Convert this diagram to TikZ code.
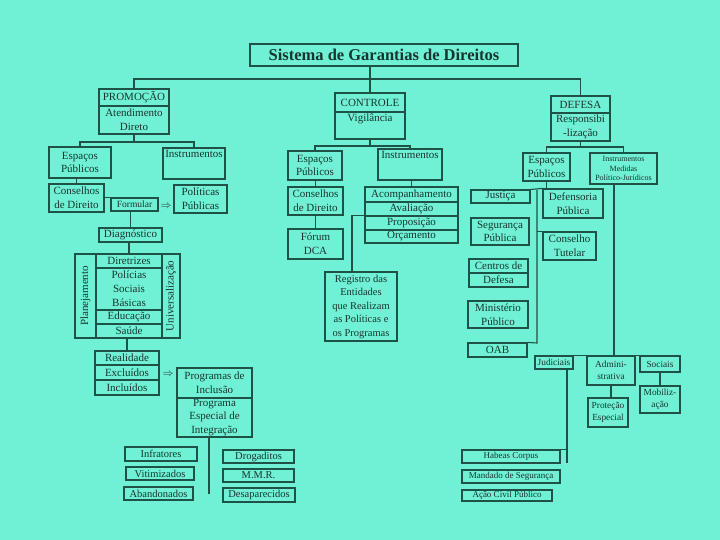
\documentclass[tikz,border=0pt]{standalone}
\usepackage{fontspec}
\setmainfont{Liberation Serif}
\definecolor{bg}{RGB}{112,240,212}
\definecolor{ln}{RGB}{30,82,70}
\definecolor{tx}{RGB}{24,54,47}
\newcommand\bx[7][]{\node[bx,#1,minimum width={(#5-#3)*1pt},minimum height={(#6-#4)*1pt}] (#2) at ({(#3+#5)/2},{(#4+#6)/2}) {#7};}
\tikzset{
  bx/.style={draw=ln,line width=1.1pt,inner sep=0pt,align=center,text=tx,font=\fontsize{11}{13.8}\selectfont},
  sm/.style={font=\fontsize{9.3}{12}\selectfont},
  cn/.style={draw=ln,line width=1.1pt},
  lbl/.style={text=tx,inner sep=1pt,font=\fontsize{11}{13.8}\selectfont}
}
\begin{document}
\begin{tikzpicture}[x=1pt,y=-1pt]
\fill[bg] (0,0) rectangle (720,540);
\useasboundingbox (0,0) rectangle (720,540);
% title
\bx[font=\fontsize{16.5}{18}\bfseries]{title}{250}{44}{518}{66}{Sistema de Garantias de Direitos}
% top level
\bx{prom}{99}{89}{169}{106}{PROMOÇÃO}
\bx{promb}{99}{106}{169}{134}{Atendimento\\Direto}
\bx{ctrl}{335}{93}{405}{112}{CONTROLE}
\bx{ctrlb}{335}{112}{405}{139}{}
\node[lbl,anchor=north] (ctrlbt) at ([yshift=-1pt]ctrlb.north) {Vigilância};
\bx{def}{551}{96}{610}{113}{DEFESA}
\bx{defb}{551}{113}{610}{141}{Responsibi\\-lização}
\coordinate (hTop) at (370,79);
\draw[cn] (ctrl.north) -- (ctrl.north |- title.south);
\draw[cn] (prom.north) |- (hTop) -| (def.north);
% PROMOCAO branch
\bx{espa}{49}{147}{111}{178}{Espaços\\Públicos}
\bx{insa}{163}{148}{225}{179}{}
\node[lbl,anchor=north] (insat) at ([yshift=-2pt]insa.north) {Instrumentos};
\coordinate (pj) at (134,142);
\draw[cn] (promb.south) -- (pj);
\draw[cn] (espa.north) |- (pj) -| (insa.north);
\bx{consa}{49}{184}{104}{212}{Conselhos\\de Direito}
\draw[cn] (consa.north) -- (consa.north |- espa.south);
\bx[font=\fontsize{9.5}{11}\selectfont]{form}{111}{198}{158}{211}{Formular}
\draw[cn] (form.north west) -- (form.north west -| consa.east);
\node[lbl] (arra) at (166,206) {$\Rightarrow$};
\bx{pol}{174}{185}{227}{213}{Políticas\\Públicas}
\bx{diag}{99}{228}{162}{242}{Diagnóstico}
\draw[cn] (diag.north) -- (diag.north |- form.south);
\bx{plan}{75}{254}{96}{338}{}
\node[lbl,rotate=90] (plant) at (plan.center) {Planejamento};
\bx{univ}{162}{254}{180}{338}{}
\node[lbl,rotate=90] (univt) at (univ.center) {Universalização};
\bx{dir}{96}{254}{162}{268}{Diretrizes}
\bx{polb}{96}{268}{162}{310}{Polícias\\Sociais\\Básicas}
\bx{edu}{96}{310}{162}{324}{Educação}
\bx{sau}{96}{324}{162}{338}{Saúde}
\draw[cn] (dir.north) -- (dir.north |- diag.south);
\bx{real}{95}{351}{159}{365}{Realidade}
\bx{excl}{95}{365}{159}{380}{Excluídos}
\bx{incl}{95}{380}{159}{395}{Incluídos}
\draw[cn] (real.north) -- (real.north |- sau.south);
\node[lbl] (arrb) at (168,374) {$\Rightarrow$};
\bx{proga}{177}{368}{252}{398}{Programas de\\Inclusão}
\bx{progb}{177}{398}{252}{437}{Programa\\Especial de\\Integração}
\coordinate (bv) at (209,494);
\draw[cn] (bv) -- (bv |- progb.south);
\bx[font=\fontsize{10.5}{12}\selectfont]{infr}{125}{447}{197}{461}{Infratores}
\bx[font=\fontsize{10.5}{12}\selectfont]{vit}{126}{467}{194}{480}{Vitimizados}
\bx[font=\fontsize{10.5}{12}\selectfont]{aban}{124}{487}{193}{500}{Abandonados}
\bx[font=\fontsize{10.5}{12}\selectfont]{drog}{223}{450}{294}{463}{Drogaditos}
\bx[font=\fontsize{10.5}{12}\selectfont]{mmr}{223}{469}{294}{482}{M.M.R.}
\bx[font=\fontsize{10.5}{12}\selectfont]{desa}{223}{488}{295}{502}{Desaparecidos}
% CONTROLE branch
\bx{espb}{288}{151}{342}{180}{Espaços\\Públicos}
\bx{insb}{378}{149}{442}{180}{}
\node[lbl,anchor=north] (insbt) at ([yshift=-2pt]insb.north) {Instrumentos};
\coordinate (cj) at (370,146);
\draw[cn] (ctrlb.south) -- (cj);
\draw[cn] (espb.north) |- (cj) -| (insb.north);
\bx{consb}{288}{187}{343}{215}{Conselhos\\de Direito}
\draw[cn] (consb.north) -- (consb.north |- espb.south);
\bx{forum}{288}{229}{343}{259}{Fórum\\DCA}
\draw[cn] (forum.north) -- (consb.south);
\bx[font=\fontsize{11}{12}\selectfont]{acomp}{365}{187}{458}{202}{Acompanhamento}
\bx{aval}{365}{202}{458}{216}{Avaliação}
\bx{prop}{365}{216}{458}{230}{Proposição}
\bx{orc}{365}{230}{458}{243}{Orçamento}
\draw[cn] (acomp.north) -- (acomp.north |- insb.south);
\bx[font=\fontsize{10.5}{13.5}\selectfont]{reg}{325}{272}{397}{341}{Registro das\\Entidades\\que Realizam\\as Políticas e\\os Programas}
\coordinate (rj) at (352,272);
\draw[cn] (prop.north west) -| (rj);
% DEFESA branch
\bx{espc}{523}{153}{570}{181}{Espaços\\Públicos}
\bx[font=\fontsize{8}{9.5}\selectfont]{insc}{590}{153}{657}{184}{Instrumentos\\Medidas\\Político-Jurídicos}
\coordinate (dj) at (580.5,147);
\draw[cn] (defb.south) -- (dj);
\draw[cn] (espc.north) |- (dj) -| (insc.north);
\bx{jus}{471}{190}{530}{203}{Justiça}
\bx{defn}{543}{189}{603}{218}{Defensoria\\Pública}
\draw[cn] (espc.south) -- (espc.south |- defn.north);
\draw[cn] (jus.north east) -- (defn.north west);
\bx{seg}{471}{218}{529}{245}{Segurança\\Pública}
\bx{ct}{543}{232}{596}{260}{Conselho\\Tutelar}
\bx{cda}{469}{259}{528}{273}{Centros de}
\bx{cdb}{469}{273}{528}{287}{Defesa}
\bx{mp}{468}{301}{528}{328}{Ministério\\Público}
\bx{oab}{468}{343}{527}{357}{OAB}
\coordinate (dvt) at (537,190);
\coordinate (dvb) at (537,343);
\draw[cn] (dvt) -- (dvb) -- (oab.north east);
\draw[cn] (ct.north west) -- (ct.north west -| dvt);
\bx[sm]{jud}{535}{356}{573}{369}{Judiciais}
\bx[sm]{adm}{587}{356}{635}{385}{Admini-\\strativa}
\bx[sm]{soc}{640}{356}{680}{372}{Sociais}
\coordinate (rv) at (614,356);
\draw[cn] (rv) -- (rv |- insc.south);
\draw[cn] (jud.north west) -- (soc.north east);
\bx[sm]{prot}{588}{398}{628}{427}{Proteção\\Especial}
\draw[cn] (adm.south) -- (adm.south |- prot.north);
\bx[sm]{mob}{640}{386}{680}{413}{Mobiliz-\\ação}
\draw[cn] (soc.south) -- (mob.north);
\bx[font=\fontsize{9}{10}\selectfont]{hab}{462}{450}{560}{463}{Habeas Corpus}
\bx[font=\fontsize{9}{10}\selectfont]{man}{462}{470}{560}{483}{Mandado de Segurança}
\bx[font=\fontsize{9}{10}\selectfont]{acao}{462}{490}{552}{501}{Ação Civil Público}
\coordinate (jv) at (567,463);
\draw[cn] (jv) -- (jv |- jud.south);
\draw[cn] (hab.north east) -- (hab.north east -| jv);
\end{tikzpicture}
\end{document}
